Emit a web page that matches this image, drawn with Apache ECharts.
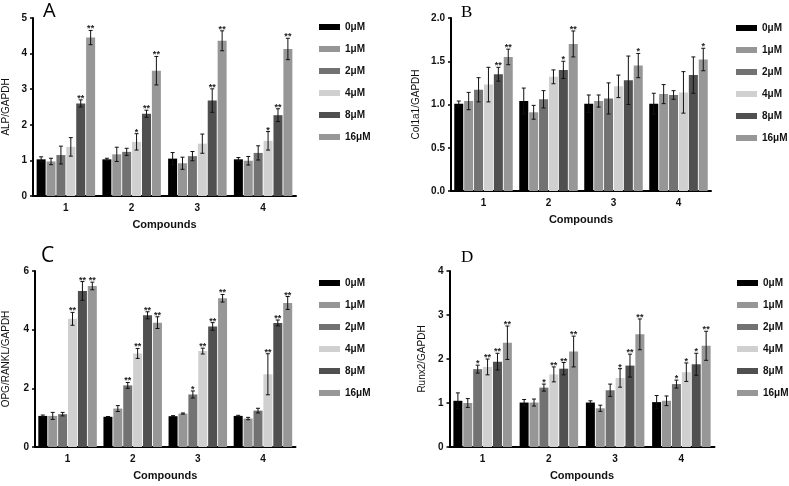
<!DOCTYPE html>
<html><head><meta charset="utf-8">
<script src="https://cdn.jsdelivr.net/npm/echarts@6/dist/echarts.min.js"></script>
<style>html,body{margin:0;padding:0;background:#fff}#c{width:789px;height:486px}</style>
</head><body><div id="c"></div>
<script>
const compounds = ['1','2','3','4'];
const doses = ['0μM','1μM','2μM','4μM','8μM','16μM'];
const doseColors = ['#000000','#969696','#727272','#d0d0d0','#505050','#979797'];

// Panel A: ALP/GAPDH
const alpMean = [
  [1.03,1.03,1.05,1.03],
  [0.97,1.17,0.92,0.99],
  [1.15,1.24,1.12,1.21],
  [1.38,1.52,1.47,1.55],
  [2.60,2.31,2.68,2.27],
  [4.45,3.52,4.36,4.13]
];
const alpErr = [
  [0.07,0.03,0.17,0.05],
  [0.09,0.20,0.17,0.12],
  [0.25,0.10,0.13,0.20],
  [0.26,0.23,0.27,0.26],
  [0.10,0.10,0.33,0.18],
  [0.20,0.40,0.28,0.30]
];
const alpSig = [
  ['','','',''],['','','',''],['','','',''],
  ['','*','','*'],['**','**','**','**'],['**','**','**','**']
];

// Panel B: Col1a1/GAPDH
const colMean = [
  [1.01,1.04,1.01,1.01],
  [1.04,0.91,1.04,1.12],
  [1.17,1.06,1.07,1.11],
  [1.23,1.32,1.21,1.14],
  [1.35,1.40,1.28,1.34],
  [1.55,1.70,1.45,1.52]
];
const colErr = [
  [0.03,0.15,0.10,0.12],
  [0.10,0.08,0.07,0.11],
  [0.14,0.10,0.18,0.05],
  [0.20,0.08,0.13,0.24],
  [0.08,0.10,0.28,0.21],
  [0.09,0.15,0.14,0.13]
];
const colSig = [
  ['','','',''],['','','',''],['','','',''],['','','',''],
  ['**','*','',''],['**','**','*','*']
];

// Panel C: OPG/RANKL/GAPDH
const opgMean = [
  [1.06,1.03,1.05,1.06],
  [1.06,1.31,1.14,0.97],
  [1.12,2.10,1.79,1.24],
  [4.37,3.19,3.27,2.48],
  [5.32,4.49,4.11,4.23],
  [5.49,4.24,5.07,4.91]
];
const opgErr = [
  [0.03,0.01,0.02,0.02],
  [0.12,0.10,0.02,0.04],
  [0.06,0.10,0.12,0.08],
  [0.22,0.17,0.10,0.70],
  [0.32,0.12,0.13,0.10],
  [0.13,0.20,0.13,0.22]
];
const opgSig = [
  ['','','',''],['','','',''],['','**','*',''],
  ['**','**','**','**'],['**','**','**','**'],['**','**','**','**']
];

// Panel D: Runx2/GAPDH
const runxMean = [
  [1.05,1.01,1.01,1.02],
  [1.00,1.01,0.88,1.05],
  [1.77,1.35,1.29,1.43],
  [1.82,1.65,1.57,1.70],
  [1.94,1.78,1.85,1.88],
  [2.37,2.17,2.56,2.30]
];
const runxErr = [
  [0.18,0.07,0.04,0.15],
  [0.10,0.08,0.07,0.11],
  [0.09,0.08,0.14,0.09],
  [0.18,0.17,0.21,0.21],
  [0.19,0.14,0.26,0.25],
  [0.38,0.35,0.35,0.33]
];
const runxSig = [
  ['','','',''],['','','',''],['*','*','','*'],
  ['**','**','*','*'],['**','**','**','*'],['**','**','**','**']
];

const yNames = ['ALP/GAPDH','Col1a1/GAPDH','OPG/RANKL/GAPDH','Runx2/GAPDH'];
const yMax = [5,2,6,4];
const yInterval = [1,0.5,2,1];
const panelLetters = ['A','B','C','D'];

const panels = [
  {mean: alpMean, err: alpErr, sig: alpSig},
  {mean: colMean, err: colErr, sig: colSig},
  {mean: opgMean, err: opgErr, sig: opgSig},
  {mean: runxMean, err: runxErr, sig: runxSig}
];

const grids = [
  {left: 31, top: 18, width: 265, height: 178},
  {left: 451, top: 18, width: 260, height: 173},
  {left: 32.5, top: 271, width: 263, height: 176},
  {left: 449.5, top: 271, width: 265, height: 176}
];
const yNameGap = [22, 30, 24, 22];
const legendPos = [
  {left: 314, top: 16},
  {left: 731, top: 17},
  {left: 314, top: 272},
  {left: 732, top: 272}
];
const letterPos = [
  {x: 43, y: 1, font: '20px "Open Sans", "Liberation Sans", sans-serif'},
  {x: 461, y: 4, font: '17px "Liberation Serif", serif'},
  {x: 41, y: 246, font: '21px "Open Sans", "Liberation Sans", sans-serif'},
  {x: 461, y: 249, font: '17px "Liberation Serif", serif'}
];

const BW = 9, GAP = 0.1;
const FONT = '"Liberation Sans", Arial, sans-serif';

const xAxes = [], yAxes = [], series = [], legends = [], graphics = [];
grids.forEach((g, p) => {
  xAxes.push({
    type: 'category', gridIndex: p, data: compounds,
    name: 'Compounds', nameLocation: 'middle', nameGap: 23,
    nameTextStyle: {fontFamily: FONT, fontWeight: 'bold', fontSize: 11, color: '#111'},
    axisLine: {lineStyle: {color: '#000', width: 2}},
    axisTick: {alignWithLabel: true, length: 4, lineStyle: {color: '#000', width: 1.5}},
    axisLabel: {fontFamily: FONT, fontWeight: 'bold', fontSize: 10, color: '#111', margin: 7}
  });
  yAxes.push({
    type: 'value', gridIndex: p, min: 0, max: yMax[p], interval: yInterval[p],
    name: yNames[p], nameLocation: 'middle', nameGap: yNameGap[p],
    nameTextStyle: {fontFamily: FONT, fontSize: 10, color: '#111'},
    axisLine: {show: true, lineStyle: {color: '#000', width: 2}},
    axisTick: {show: true, length: 3, lineStyle: {color: '#000', width: 1.5}},
    splitLine: {show: false},
    axisLabel: {fontFamily: FONT, fontWeight: 'bold', fontSize: 10, color: '#111', margin: 6,
      formatter: p === 1 ? (v => v.toFixed(1)) : (v => String(v))}
  });
  const P = panels[p];
  doses.forEach((d, i) => {
    series.push({
      type: 'bar', name: d, xAxisIndex: p, yAxisIndex: p,
      data: P.mean[i], barWidth: BW, barGap: (GAP * 100) + '%',
      itemStyle: {color: doseColors[i]}, z: 2
    });
  });
  const errData = [];
  doses.forEach((d, i) => {
    compounds.forEach((c, j) => {
      errData.push([j, P.mean[i][j], P.err[i][j], i, P.sig[i][j]]);
    });
  });
  series.push({
    type: 'custom', xAxisIndex: p, yAxisIndex: p, z: 5, silent: true,
    encode: {x: 0, y: 1},
    data: errData,
    renderItem: function (params, api) {
      const ci = api.value(0), m = api.value(1), e = api.value(2), di = api.value(3);
      const sig = errData[params.dataIndex][4];
      const off = (di - 2.5) * BW * (1 + GAP);
      const top = api.coord([ci, m + e]);
      const bot = api.coord([ci, m - e]);
      const x = top[0] + off;
      const cap = 2;
      const st = {stroke: '#111', lineWidth: 1};
      const children = [
        {type: 'line', shape: {x1: x, y1: top[1], x2: x, y2: bot[1]}, style: st},
        {type: 'line', shape: {x1: x - cap, y1: top[1], x2: x + cap, y2: top[1]}, style: st},
        {type: 'line', shape: {x1: x - cap, y1: bot[1], x2: x + cap, y2: bot[1]}, style: st}
      ];
      if (sig) {
        children.push({type: 'text', style: {text: sig, x: x, y: top[1] + 3,
          align: 'center', verticalAlign: 'bottom', fill: '#222',
          font: 'bold 9px ' + FONT}});
      }
      return {type: 'group', children: children};
    }
  });
  legends.push({
    left: legendPos[p].left, top: legendPos[p].top, orient: 'vertical',
    data: doses.map(d => ({name: d, icon: 'rect'})),
    itemWidth: 21, itemHeight: 6, itemGap: 10, selectedMode: false,
    textStyle: {fontFamily: FONT, fontWeight: 'bold', fontSize: 10, color: '#111',
      lineHeight: 12}
  });
  graphics.push({type: 'text', left: letterPos[p].x, top: letterPos[p].y,
    style: {text: panelLetters[p], font: letterPos[p].font, fill: '#000'}});
});

const chart = echarts.init(document.getElementById('c'), null, {renderer: 'canvas'});
chart.setOption({
  animation: false,
  backgroundColor: '#fff',
  grid: grids,
  xAxis: xAxes,
  yAxis: yAxes,
  legend: legends,
  series: series,
  graphic: graphics
});
</script></body></html>
